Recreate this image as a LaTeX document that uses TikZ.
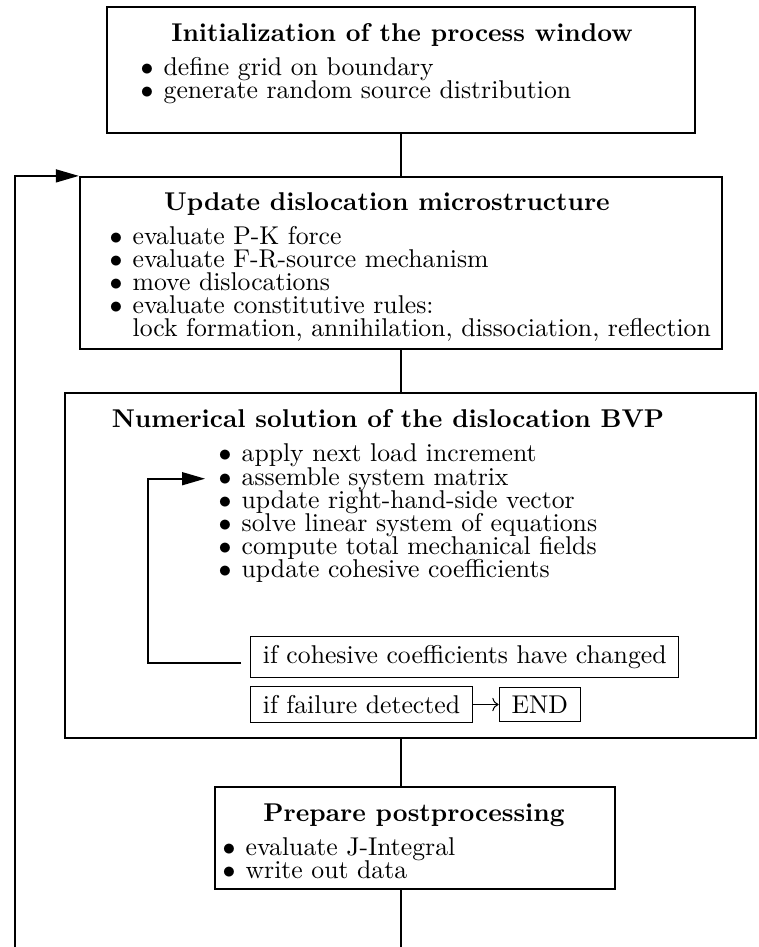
\documentclass[tikz,border=0pt]{standalone}
\usetikzlibrary{arrows.meta}
\begin{document}
\def\u{0.389pt}
\newcommand\bul{$\bullet$\hspace{4pt}}
\begin{tikzpicture}[x=0.389pt,y=-0.389pt,
  outerbox/.style={draw, line width=0.85pt, inner sep=0pt},
  smallbox/.style={draw, line width=0.45pt, inner xsep=4.8pt, inner ysep=3.33pt},
  ttl/.style={inner sep=0pt, anchor=base, font=\bfseries},
  itm/.style={inner sep=0pt, anchor=base west},
  conn/.style={line width=0.45pt},
  looparrow/.style={line width=0.8pt, -{Triangle[length=9pt,width=5pt]}},
  small arrow/.style={line width=0.4pt, -{To}}]
\useasboundingbox (0,0) rectangle (758,947);

% boxes
\node[outerbox, minimum width=588*\u, minimum height=126*\u] (init) at (401,70) {};
\node[outerbox, minimum width=642*\u, minimum height=172*\u] (upd) at (401,263) {};
\node[outerbox, minimum width=691*\u, minimum height=345*\u] (bvp) at (410.5,565.5) {};
\node[outerbox, minimum width=400*\u, minimum height=102*\u] (post) at (415,838) {};

% box 1
\node[ttl] (t1) at (402,42) {Initialization of the process window};
\node[itm] (i11) at (140,76) {\bul define grid on boundary};
\node[itm] (i12) at (140,99) {\bul generate random source distribution};

% box 2
\node[ttl] (t2) at (387,211) {Update dislocation microstructure};
\node[itm] (i21) at (109,245) {\bul evaluate P-K force};
\node[itm] (i22) at (109,268) {\bul evaluate F-R-source mechanism};
\node[itm] (i23) at (109,291) {\bul move dislocations};
\node[itm] (i24) at (109,314) {\bul evaluate constitutive rules:};
\node[itm] (i25) at (109,337) {\hphantom{\bul}lock formation, annihilation, dissociation, reflection};

% box 3
\node[ttl] (t3) at (388,428) {Numerical solution of the dislocation BVP};
\node[itm] (i31) at (218,462) {\bul apply next load increment};
\node[itm] (i32) at (218,485) {\bul assemble system matrix};
\node[itm] (i33) at (218,508) {\bul update right-hand-side vector};
\node[itm] (i34) at (218,531) {\bul solve linear system of equations};
\node[itm] (i35) at (218,554) {\bul compute total mechanical fields};
\node[itm] (i36) at (218,577) {\bul update cohesive coefficients};
\node[smallbox, anchor=west] (coh) at (250,657) {if cohesive coefficients have changed};
\node[smallbox, anchor=west] (fail) at (250,704.5) {if failure detected};
\node[smallbox, anchor=west] (endb) at ([xshift=10pt]fail.east) {END};

% box 4
\node[ttl] (t4) at (414,821) {Prepare postprocessing};
\node[itm] (i41) at (222,855) {\bul evaluate J-Integral};
\node[itm] (i42) at (222,878) {\bul write out data};

% coordinates
\coordinate (col) at (401,0);
\coordinate (bend) at (401,947);
\coordinate (lbot) at (15,947);
\coordinate (innerx) at (148,0);

% connectors
\draw[conn] (init.south) -- (upd.north);
\draw[conn] (upd.south) -- (col |- bvp.north);
\draw[conn] (col |- bvp.south) -- (col |- post.north);
\draw[conn] (col |- post.south) -- (bend);
\draw[looparrow] (lbot) |- (upd.north west);
\draw[looparrow] ([xshift=-3.5pt]coh.base west) -| (innerx |- i32.west) -- ([xshift=-5pt]i32.west);
\draw[small arrow] (fail.east) -- (endb.west);
\end{tikzpicture}
\end{document}
